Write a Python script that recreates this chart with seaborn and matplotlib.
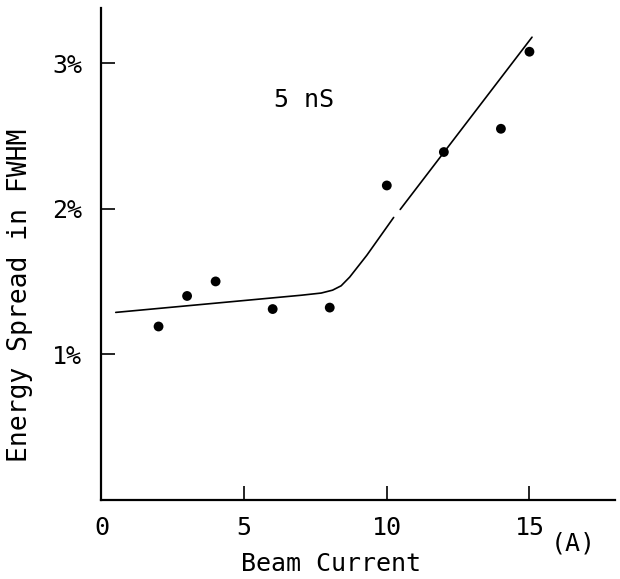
import numpy as np
import pandas as pd
import matplotlib
matplotlib.use('Agg')
import matplotlib.pyplot as plt
import seaborn as sns

# measured points
beam_current = [2, 3, 4, 6, 8, 10, 12, 14, 15]
energy_spread = [1.19, 1.40, 1.50, 1.31, 1.32, 2.16, 2.39, 2.55, 3.08]

# hand drawn guide line, drawn in two pieces
curve1_x = [0.5, 7.0, 7.7, 8.1, 8.4, 8.7, 9.3, 10.24]
curve1_y = [1.287, 1.405, 1.42, 1.44, 1.47, 1.53, 1.68, 1.94]
curve2_x = [10.47, 15.09]
curve2_y = [1.995, 3.18]

x_ticks = [0, 5, 10, 15]
y_ticks = [1, 2, 3]
y_labels = ['1%', '2%', '3%']

sns.set_style('ticks')
plt.rcParams['font.family'] = ['DejaVu Sans Mono', 'DejaVu Sans']
plt.rcParams['text.color'] = 'black'
plt.rcParams['axes.labelcolor'] = 'black'
plt.rcParams['xtick.color'] = 'black'
plt.rcParams['ytick.color'] = 'black'

fig = plt.figure(figsize=(6.2, 5.79), dpi=100)
ax = fig.add_axes([0.1637, 0.1373, 0.8283, 0.8487])

sns.lineplot(x=curve1_x, y=curve1_y, ax=ax, color='black', linewidth=1.2, sort=False)
sns.lineplot(x=curve2_x, y=curve2_y, ax=ax, color='black', linewidth=1.2, sort=False)
sns.scatterplot(x=beam_current, y=energy_spread, ax=ax, color='black', s=50,
                edgecolor='none', zorder=3)

ax.set_xlim(0, 18)
ax.set_ylim(0, 3.38)
ax.set_xticks(x_ticks)
ax.set_xticklabels([str(t) for t in x_ticks], fontsize=18)
ax.set_yticks(y_ticks)
ax.set_yticklabels(y_labels, fontsize=18)
ax.tick_params(axis='both', direction='in', length=10, width=1.2, color='black',
               labelcolor='black')
ax.tick_params(axis='x', pad=12)
ax.tick_params(axis='y', pad=14)

sns.despine(ax=ax)
for side in ['left', 'bottom']:
    ax.spines[side].set_linewidth(1.6)
    ax.spines[side].set_color('black')

ax.set_ylabel('Energy Spread in FWHM', fontsize=19)
ax.yaxis.set_label_coords(-0.133, 0.416)
ax.set_xlabel('Beam Current', fontsize=18)
ax.xaxis.set_label_coords(0.447, -0.106)
ax.text(16.54, -0.306, '(A)', fontsize=18, ha='center', va='center', clip_on=False)
ax.text(7.1, 2.75, '5 nS', fontsize=18, ha='center', va='center')

fig.savefig('out.png', dpi=100)
